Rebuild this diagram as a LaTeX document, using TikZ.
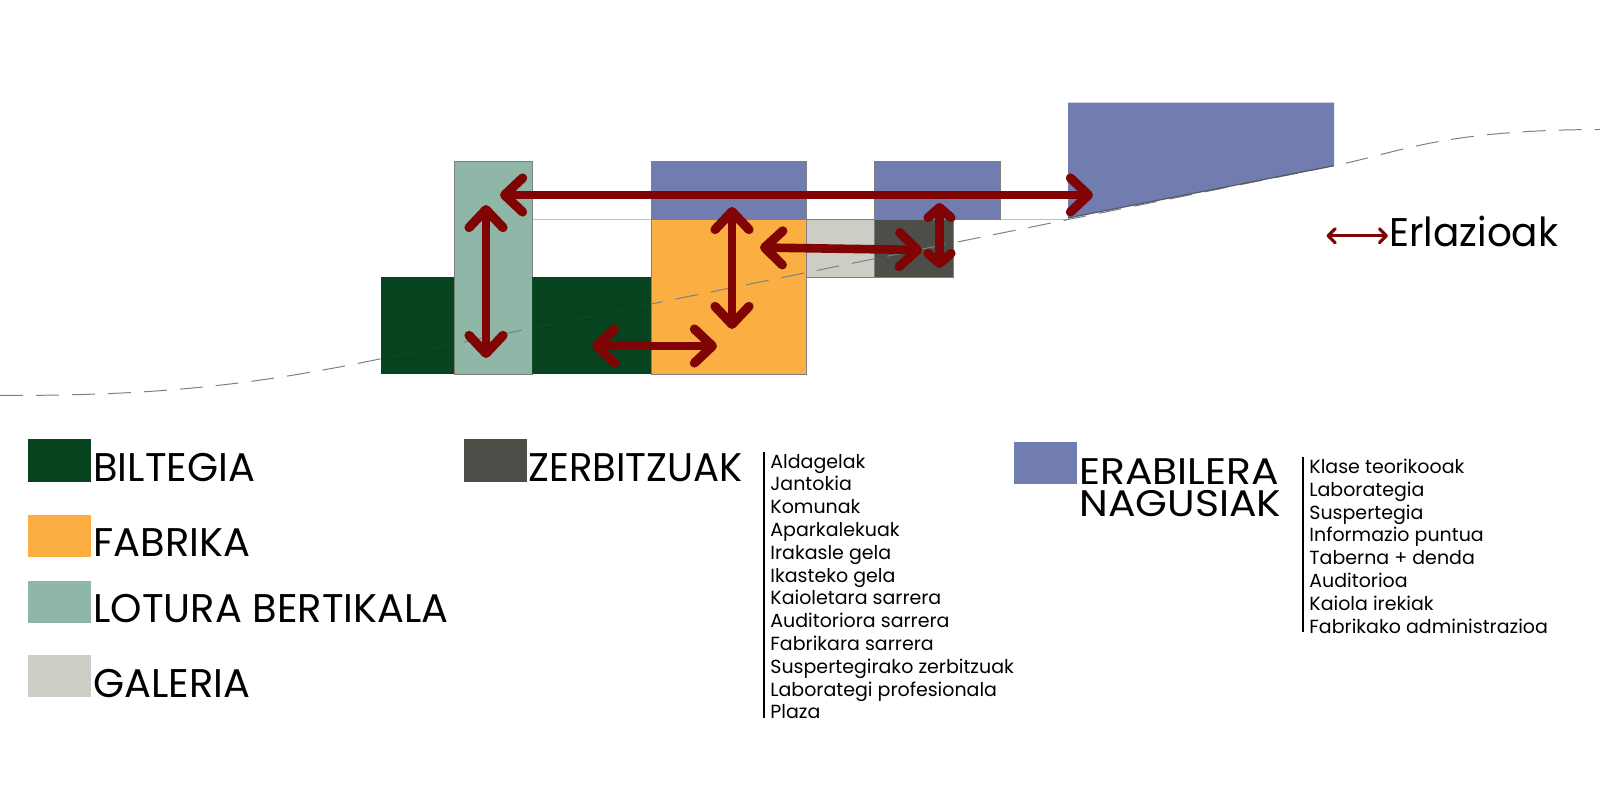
\documentclass[tikz,border=0pt]{standalone}
\usepackage{fontspec}
\usetikzlibrary{arrows.meta}
\setmainfont{Poppins}
\newfontfamily\headfont{Poppins}
\newfontfamily\headwide[FakeStretch=1.105]{Poppins}
\newfontfamily\listfont{Poppins}
\definecolor{bilt}{HTML}{08431F}
\definecolor{fabr}{HTML}{FBAE42}
\definecolor{lotu}{HTML}{8FB7A8}
\definecolor{gale}{HTML}{CDCDC6}
\definecolor{zerb}{HTML}{4E4E49}
\definecolor{erab}{HTML}{717DAE}
\definecolor{arr}{HTML}{800404}
\definecolor{edge}{HTML}{7F7F7F}
\tikzset{
  x=0.5pt,y=-0.5pt,
  vol/.style={draw=edge,line width=0.45pt},
  rel/.style={draw=arr,line width=4.3pt,line cap=round,{Straight Barb[length=9pt,width=17pt,line width=4.6pt,round]}-{Straight Barb[length=9pt,width=17pt,line width=4.6pt,round]}},
  relshort/.style={draw=arr,line width=4.3pt,line cap=round,{Straight Barb[length=5pt,width=11.5pt,line width=4.6pt,round]}-{Straight Barb[length=5pt,width=11.5pt,line width=4.6pt,round]}},
  relkey/.style={draw=arr,line width=1.6pt,{Straight Barb[length=3.5pt,width=7pt,line width=1.6pt,round]}-{Straight Barb[length=3.5pt,width=7pt,line width=1.6pt,round]}},
  ground/.style={draw=gray,line width=0.5pt,dash pattern=on 11.5pt off 6.5pt},
  head/.style={anchor=base west,inner sep=0pt,font=\headfont\fontsize{20}{22}\selectfont,text=black},
  item/.style={anchor=base west,inner sep=0pt,font=\listfont\fontsize{9.5}{11}\selectfont,text=black},
  bar/.style={draw=black,line width=0.8pt}
}
\begin{document}
\begin{tikzpicture}
\useasboundingbox (0,0) rectangle (1600,796);
% volumes
\fill[bilt] (380.5,277) rectangle (651.7,374);
\draw[gray!50,line width=0.5pt] (532,219.3) -- (651.7,219.3) (1000,219.3) -- (1068,219.3);
\draw[vol,fill=lotu] (454.3,161) rectangle (532,374);
\draw[vol,fill=fabr] (651.7,219.3) rectangle (806.3,374);
\draw[vol,fill=erab] (651.7,161) rectangle (806.3,219.3);
\draw[vol,fill=erab] (874,161) rectangle (1000,219.3);
\draw[vol,fill=gale] (806.3,219.3) rectangle (874,277);
\draw[vol,fill=zerb] (874,219.3) rectangle (953,277);
\fill[erab] (1068,102.7) -- (1334,102.7) -- (1334,165.7) -- (1068,218) -- cycle;
% ground line
\draw[ground] (0,395.5) .. controls (120,395.5) and (220,391) .. (360,363) -- (1334,165.7) .. controls (1400,152.5) and (1440,130) .. (1600,129.5);
% the store hides most of the ground line
\fill[bilt,opacity=0.9] (380.5,277) rectangle (454,374);
\fill[bilt,opacity=0.9] (532.3,277) rectangle (651.4,374);
\draw[edge!60!erab!70!black,line width=0.6pt] (1068,218) -- (1334,165.7);
% relations
\coordinate (a1l) at (500,195);  \coordinate (a1r) at (1093,195);
\coordinate (a2t) at (486,205);  \coordinate (a2b) at (486,358);
\coordinate (a3t) at (732,207);  \coordinate (a3b) at (732,329);
\coordinate (a4l) at (592,346);  \coordinate (a4r) at (717,346);
\coordinate (a5l) at (760,247.5);  \coordinate (a5r) at (922,250);
\coordinate (a6t) at (939.5,203);  \coordinate (a6b) at (939.5,268);
\draw[rel] (a1l) -- (a1r);
\draw[rel] (a2t) -- (a2b);
\draw[rel] (a3t) -- (a3b);
\draw[rel] (a4l) -- (a4r);
\draw[rel] (a5l) -- (a5r);
\draw[relshort] (a6t) -- (a6b);
% key
\coordinate (kl) at (1326.5,235.7); \coordinate (kr) at (1388,235.7);
\draw[relkey] (kl) -- (kr);
\node[head] (erl) at (1389,247) {\scalebox{0.973}[1]{Erlazioak}};
% legend
\fill[bilt] (28,439.3) rectangle (90.6,481.7);
\fill[fabr] (28,515) rectangle (90.6,556.7);
\fill[lotu] (28,580.7) rectangle (90.6,622.7);
\fill[gale] (28,655) rectangle (90.6,697.3);
\fill[zerb] (464.4,439.3) rectangle (527,481.7);
\fill[erab] (1014,442) rectangle (1077,484);
\node[head] (t1) at (93,481.7) {BILTEGIA};
\node[head] (t2) at (93,556.7) {FABRIKA};
\node[head] (t3) at (93,622.7) {LOTURA BERTIKALA};
\node[head] (t4) at (93,697.3) {GALERIA};
\node[head] (t5) at (528,481.7) {\scalebox{0.964}[1]{ZERBITZUAK}};
\node[anchor=base west,inner sep=0pt,align=left,font=\headwide\fontsize{18.5}{16.35}\selectfont] (t6) at (1079,516.7) {ERABILERA\\NAGUSIAK};
% lists
\draw[bar] (764,451.7) -- (764,718);
\foreach \t [count=\i from 0] in {Aldagelak,Jantokia,Komunak,Aparkalekuak,Irakasle gela,Ikasteko gela,Kaioletara sarrera,Auditoriora sarrera,Fabrikara sarrera,Suspertegirako zerbitzuak,Laborategi profesionala,Plaza}{
  \node[item] (l\i) at (770,468+22.8*\i) {\t};
}
\draw[bar] (1303,457) -- (1303,632);
\foreach \t [count=\i from 0] in {Klase teorikooak,Laborategia,Suspertegia,Informazio puntua,Taberna + denda,Auditorioa,Kaiola irekiak,Fabrikako administrazioa}{
  \node[item] (r\i) at (1309,473.5+22.8*\i) {\t};
}
\end{tikzpicture}
\end{document}
